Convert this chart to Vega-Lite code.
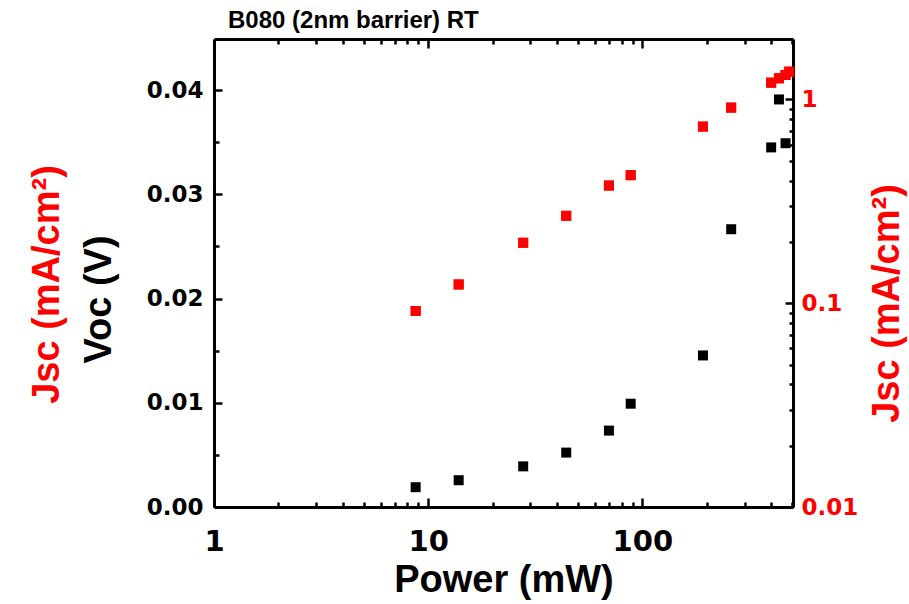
{
  "$schema": "https://vega.github.io/schema/vega-lite/v6.json",
  "width": 579,
  "height": 468,
  "autosize": {"type": "none"},
  "padding": {"left": 214, "top": 39, "right": 116, "bottom": 97},
  "background": "white",
  "config": {
    "view": {"stroke": null},
    "font": "Liberation Sans",
    "axis": {
      "labelFont": "DejaVu Sans",
      "labelFontWeight": "bold",
      "titleFont": "Liberation Sans",
      "titleFontWeight": "bold",
      "titleFontSize": 38,
      "domainColor": "black",
      "domainWidth": 3,
      "tickColor": "black",
      "tickWidth": 2.5,
      "grid": false,
      "labelColor": "black",
      "titleColor": "black"
    }
  },
  "title": {
    "text": "B080 (2nm barrier) RT",
    "anchor": "start",
    "frame": "group",
    "dx": 14,
    "font": "Liberation Sans",
    "fontSize": 24,
    "fontWeight": "bold",
    "color": "black",
    "baseline": "alphabetic",
    "offset": -14
  },
  "datasets": {
    "pts": [
      {"power": 8.74, "voc": 0.0019, "jsc": 0.0916},
      {"power": 13.88, "voc": 0.00257, "jsc": 0.1236},
      {"power": 27.77, "voc": 0.0039, "jsc": 0.198},
      {"power": 44.1, "voc": 0.00522, "jsc": 0.2685},
      {"power": 69.8, "voc": 0.00733, "jsc": 0.378},
      {"power": 88.2, "voc": 0.00991, "jsc": 0.425},
      {"power": 191.8, "voc": 0.01454, "jsc": 0.736},
      {"power": 259.8, "voc": 0.02665, "jsc": 0.912},
      {"power": 399.3, "voc": 0.0345, "jsc": 1.209},
      {"power": 434.2, "voc": 0.0391, "jsc": 1.27},
      {"power": 466, "voc": 0.0349, "jsc": 1.319},
      {"power": 485, "jsc": 1.369}
    ]
  },
  "data": {"name": "pts"},
  "layer": [
    {
      "mark": {"type": "square", "size": 100, "color": "black", "opacity": 1},
      "encoding": {
        "x": {
          "field": "power",
          "type": "quantitative",
          "scale": {"type": "log", "domain": [1, 505], "nice": false},
          "axis": {
            "orient": "bottom",
            "values": [1, 2, 3, 4, 5, 6, 7, 8, 9, 10, 20, 30, 40, 50, 60, 70, 80, 90, 100, 200, 300, 400, 500],
            "format": "d",
            "labelExpr": "datum.value==1||datum.value==10||datum.value==100 ? datum.label : ''",
            "tickSize": {"condition": {"test": "datum.value==1||datum.value==10||datum.value==100", "value": -9}, "value": -5},
            "labelFontSize": 29,
            "labelPadding": 29,
            "labelFlush": false,
            "labelOverlap": false,
            "title": "Power (mW)",
            "titlePadding": 1
          }
        },
        "y": {
          "field": "voc",
          "type": "quantitative",
          "scale": {"domain": [0, 0.0449], "nice": false, "zero": false},
          "axis": {
            "orient": "left",
            "values": [0, 0.005, 0.01, 0.015, 0.02, 0.025, 0.03, 0.035, 0.04],
            "format": ".2f",
            "labelExpr": "round(datum.value*1000)%10==0 ? datum.label : ''",
            "tickSize": {"condition": {"test": "round(datum.value*1000)%10==0", "value": -8}, "value": -5},
            "labelFontSize": 23,
            "labelPadding": 19,
            "labelFlush": false,
            "labelOverlap": false,
            "title": "Voc (V)",
            "titleX": -96,
            "titleY": 260,
            "titleAngle": 270,
            "titleBaseline": "bottom",
            "titleAlign": "center"
          }
        }
      }
    },
    {
      "mark": {"type": "square", "size": 100, "color": "#ff0000", "opacity": 1},
      "encoding": {
        "x": {
          "field": "power",
          "type": "quantitative",
          "scale": {"type": "log", "domain": [1, 505], "nice": false},
          "axis": {
            "orient": "top",
            "values": [1, 2, 3, 4, 5, 6, 7, 8, 9, 10, 20, 30, 40, 50, 60, 70, 80, 90, 100, 200, 300, 400, 500],
            "labels": false,
            "tickSize": {"condition": {"test": "datum.value==1||datum.value==10||datum.value==100", "value": -9}, "value": -5},
            "title": null
          }
        },
        "y": {
          "field": "jsc",
          "type": "quantitative",
          "scale": {"type": "log", "domain": [0.01, 1.98], "nice": false},
          "axis": {
            "orient": "right",
            "values": [0.01, 0.02, 0.03, 0.04, 0.05, 0.06, 0.07, 0.08, 0.09, 0.1, 0.2, 0.3, 0.4, 0.5, 0.6, 0.7, 0.8, 0.9, 1],
            "labelExpr": "datum.value==1 ? '1' : datum.value==0.1 ? '0.1' : datum.value==0.01 ? '0.01' : ''",
            "tickSize": {"condition": {"test": "datum.value==0.01||datum.value==0.1||datum.value==1", "value": -8}, "value": -4},
            "labelFontSize": 23,
            "labelColor": "#ff0000",
            "labelPadding": 16,
            "labelFlush": false,
            "labelOverlap": false,
            "title": "Jsc (mA/cm²)",
            "titleColor": "#ff0000",
            "titleX": 113,
            "titleY": 264,
            "titleAngle": 270,
            "titleBaseline": "bottom",
            "titleAlign": "center"
          }
        }
      }
    },
    {
      "mark": {"type": "square", "size": 100, "color": "#ff0000", "opacity": 1},
      "encoding": {
        "x": {
          "field": "power",
          "type": "quantitative",
          "scale": {"type": "log", "domain": [1, 505], "nice": false},
          "axis": null
        },
        "y": {
          "field": "jsc",
          "type": "quantitative",
          "scale": {"type": "log", "domain": [0.01, 1.98], "nice": false},
          "axis": {
            "orient": "left",
            "labels": false,
            "ticks": false,
            "domain": false,
            "title": "Jsc (mA/cm²)",
            "titleColor": "#ff0000",
            "titleX": -148,
            "titleY": 245,
            "titleAngle": 270,
            "titleBaseline": "bottom",
            "titleAlign": "center"
          }
        }
      }
    }
  ],
  "resolve": {
    "scale": {"x": "shared", "y": "independent"},
    "axis": {"x": "independent", "y": "independent"}
  }
}
